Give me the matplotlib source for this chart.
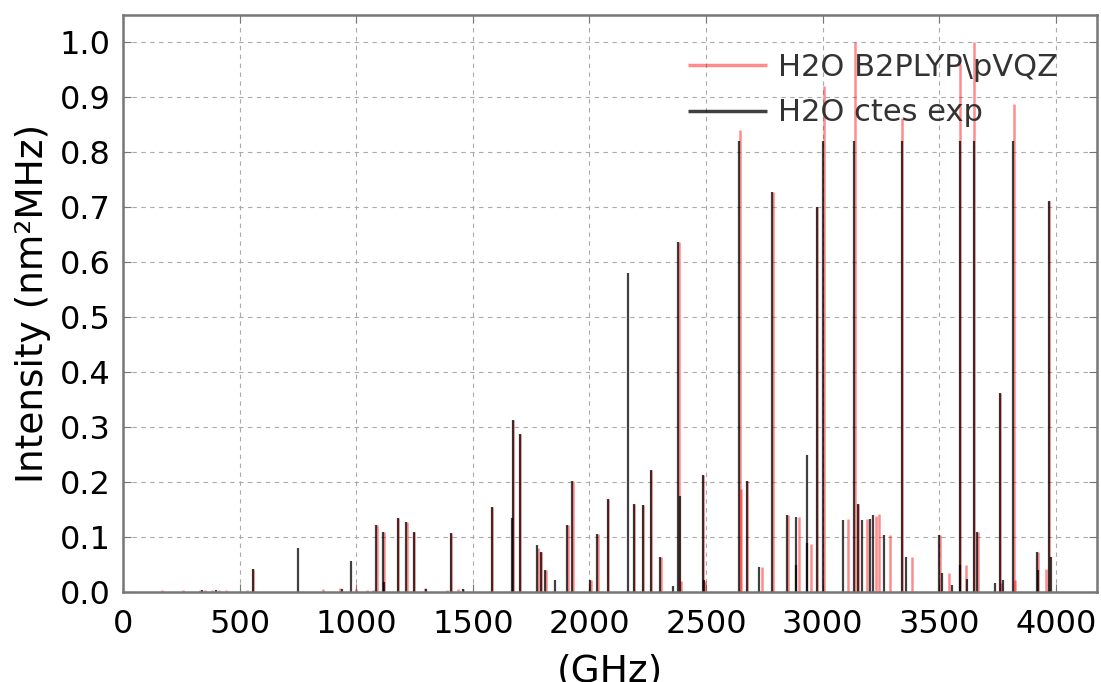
import matplotlib
matplotlib.use('Agg')
import matplotlib.pyplot as plt

# experimental constants (black sticks): frequency (GHz), intensity
exp_freq = [340, 400, 557, 752, 940, 976, 1086, 1116, 1119, 1178, 1215, 1246, 1300,
            1405, 1460, 1581, 1668, 1672, 1702, 1774, 1791, 1810, 1852, 1905, 1927,
            2003, 2034, 2078, 2167, 2191, 2229, 2263, 2303, 2357, 2381, 2388, 2486,
            2492, 2643, 2674, 2729, 2784, 2849, 2886, 2887, 2932, 2934, 2974, 3003,
            3089, 3135, 3150, 3167, 3203, 3217, 3263, 3339, 3356, 3501, 3511, 3556,
            3589, 3591, 3618, 3649, 3664, 3739, 3761, 3772, 3818, 3921, 3923, 3970,
            3980]
exp_int = [0.003, 0.003, 0.041, 0.080, 0.006, 0.056, 0.121, 0.110, 0.018, 0.134, 0.127,
           0.109, 0.006, 0.108, 0.005, 0.154, 0.135, 0.313, 0.287, 0.086, 0.073, 0.040,
           0.022, 0.122, 0.202, 0.022, 0.106, 0.169, 0.580, 0.161, 0.158, 0.222, 0.063,
           0.010, 0.636, 0.175, 0.213, 0.022, 0.820, 0.202, 0.046, 0.727, 0.140, 0.136,
           0.050, 0.250, 0.089, 0.700, 0.820, 0.131, 0.820, 0.160, 0.131, 0.133, 0.140,
           0.104, 0.820, 0.063, 0.104, 0.034, 0.012, 0.820, 0.049, 0.024, 0.820, 0.110,
           0.017, 0.362, 0.021, 0.820, 0.073, 0.040, 0.711, 0.063]

# B2PLYP/pVQZ computed (red sticks)
calc_freq = [166, 257, 330, 350, 380, 410, 440, 530, 559, 858, 930, 1000, 1045, 1072,
             1088, 1118, 1180, 1217, 1248, 1295, 1390, 1407, 1437, 1460, 1583, 1674,
             1704, 1778, 1793, 1812, 1907, 1929, 2005, 2036, 2080, 2193, 2231, 2265,
             2307, 2383, 2395, 2488, 2497, 2645, 2650, 2676, 2739, 2786, 2851, 2897,
             2950, 2976, 3005, 3110, 3137, 3152, 3189, 3229, 3243, 3289, 3341, 3382,
             3503, 3542, 3591, 3614, 3651, 3666, 3763, 3766, 3820, 3826, 3923, 3958,
             3972]
calc_int = [0.004, 0.004, 0.003, 0.004, 0.004, 0.003, 0.003, 0.003, 0.041, 0.006, 0.008,
            0.005, 0.004, 0.004, 0.121, 0.110, 0.134, 0.127, 0.109, 0.007, 0.004, 0.108,
            0.006, 0.005, 0.154, 0.313, 0.287, 0.080, 0.073, 0.040, 0.122, 0.202, 0.022,
            0.106, 0.169, 0.161, 0.158, 0.222, 0.063, 0.636, 0.020, 0.213, 0.020, 0.841,
            0.187, 0.202, 0.046, 0.727, 0.140, 0.136, 0.087, 0.700, 0.920, 0.133, 1.000,
            0.160, 0.133, 0.138, 0.142, 0.104, 0.863, 0.063, 0.104, 0.034, 0.960, 0.050,
            1.000, 0.110, 0.362, 0.017, 0.888, 0.021, 0.073, 0.041, 0.711]

fig, ax = plt.subplots(figsize=(11.01, 6.82), dpi=100)
fig.subplots_adjust(left=0.1117, right=0.9964, top=0.978, bottom=0.132)

ax.vlines(calc_freq, 0, calc_int, colors='red', alpha=0.45, lw=1.8,
          label='H2O B2PLYP\\pVQZ')
ax.vlines(exp_freq, 0, exp_int, colors='black', alpha=0.75, lw=1.6,
          label='H2O ctes exp')

ax.set_xlim(0, 4177)
ax.set_ylim(0, 1.05)
ax.set_xticks(range(0, 4001, 500))
ax.set_yticks([i / 10 for i in range(11)])
ax.set_yticklabels(['%.1f' % (i / 10) for i in range(11)])

ax.grid(True, color='#aaaaaa', linestyle=(0, (4, 4)), lw=0.8)
ax.set_axisbelow(True)
for sp in ax.spines.values():
    sp.set_color('#777777')
    sp.set_linewidth(1.8)
ax.tick_params(direction='in', length=6, color='#777777', labelsize=23,
               top=True, right=True, pad=9)
ax.tick_params(axis='x', pad=12)

ax.set_ylabel('Intensity (nm²MHz)', fontsize=27, labelpad=6)
ax.set_xlabel('(GHz)', fontsize=27, labelpad=10)

leg = ax.legend(loc='upper left', bbox_to_anchor=(0.58, 0.935), frameon=False,
                fontsize=22, handlelength=2.6, handletextpad=0.35,
                labelspacing=0.55, borderpad=0, borderaxespad=0)
for t in leg.get_texts():
    t.set_color('#333333')
for h in leg.legend_handles:
    h.set_linewidth(2.5)

plt.savefig('out.png')
